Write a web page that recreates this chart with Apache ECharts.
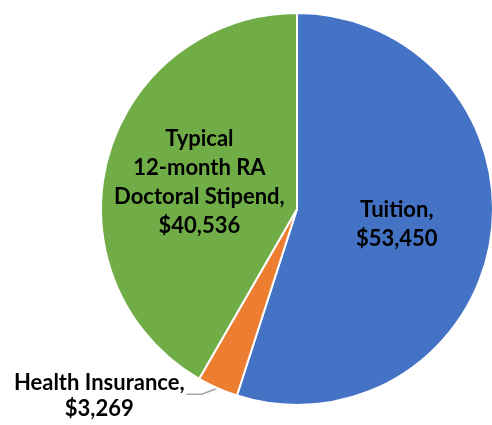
<!DOCTYPE html>
<html>
<head>
<meta charset="utf-8">
<script src="https://cdn.jsdelivr.net/npm/echarts@6/dist/echarts.min.js"></script>
<style>
  html, body { margin: 0; padding: 0; background: #fff; }
  #chart { width: 492px; height: 425px; }
</style>
</head>
<body>
<div id="chart"></div>
<script>
// slice names and values, clockwise from 12 o'clock
const categories = ['Tuition', 'Health Insurance', 'Typical\n12-month RA\nDoctoral Stipend']
const values = [53450, 3269, 40536]
const colors = ['#4472C4', '#ED7D31', '#70AD47']

const chart = echarts.init(document.getElementById('chart'))

const fmt = v => '$' + v.toLocaleString('en-US')

const option = {
  backgroundColor: '#fff',
  animation: false,
  series: [{
    type: 'pie',
    center: [297, 209],
    radius: 196,
    startAngle: 90,
    clockwise: true,
    itemStyle: { borderColor: '#fff', borderWidth: 2 },
    label: {
      position: 'inside',
      color: '#000',
      fontFamily: 'Lato',
      fontWeight: 'bold',
      fontSize: 22,
      lineHeight: 29,
      align: 'center',
      formatter: p => p.name + ',\n' + fmt(p.value)
    },
    labelLine: { show: false },
    data: categories.map((name, i) => {
      const d = { name: name, value: values[i], itemStyle: { color: colors[i] } }
      if (i === 1) {
        d.label = { position: 'outside', lineHeight: 26 }
        d.labelLine = {
          show: true, length: 5, length2: 16,
          lineStyle: { color: '#A6A6A6', width: 1.5 }
        }
      }
      return d
    }),
    labelLayout: function (params) {
      if (params.dataIndex !== 1) return {}
      // bend the leader line: short diagonal, then a horizontal run to the left
      const start = params.labelLinePoints[0]
      const mid = [start[0] - 16, start[1] + 6]
      const end = [mid[0] - 15, mid[1]]
      return {
        x: end[0] - 2 - params.labelRect.width / 2,
        y: end[1] + 2,
        align: 'center',
        verticalAlign: 'middle',
        labelLinePoints: [start, mid, end]
      }
    }
  }]
}

chart.setOption(option)
</script>
</body>
</html>
